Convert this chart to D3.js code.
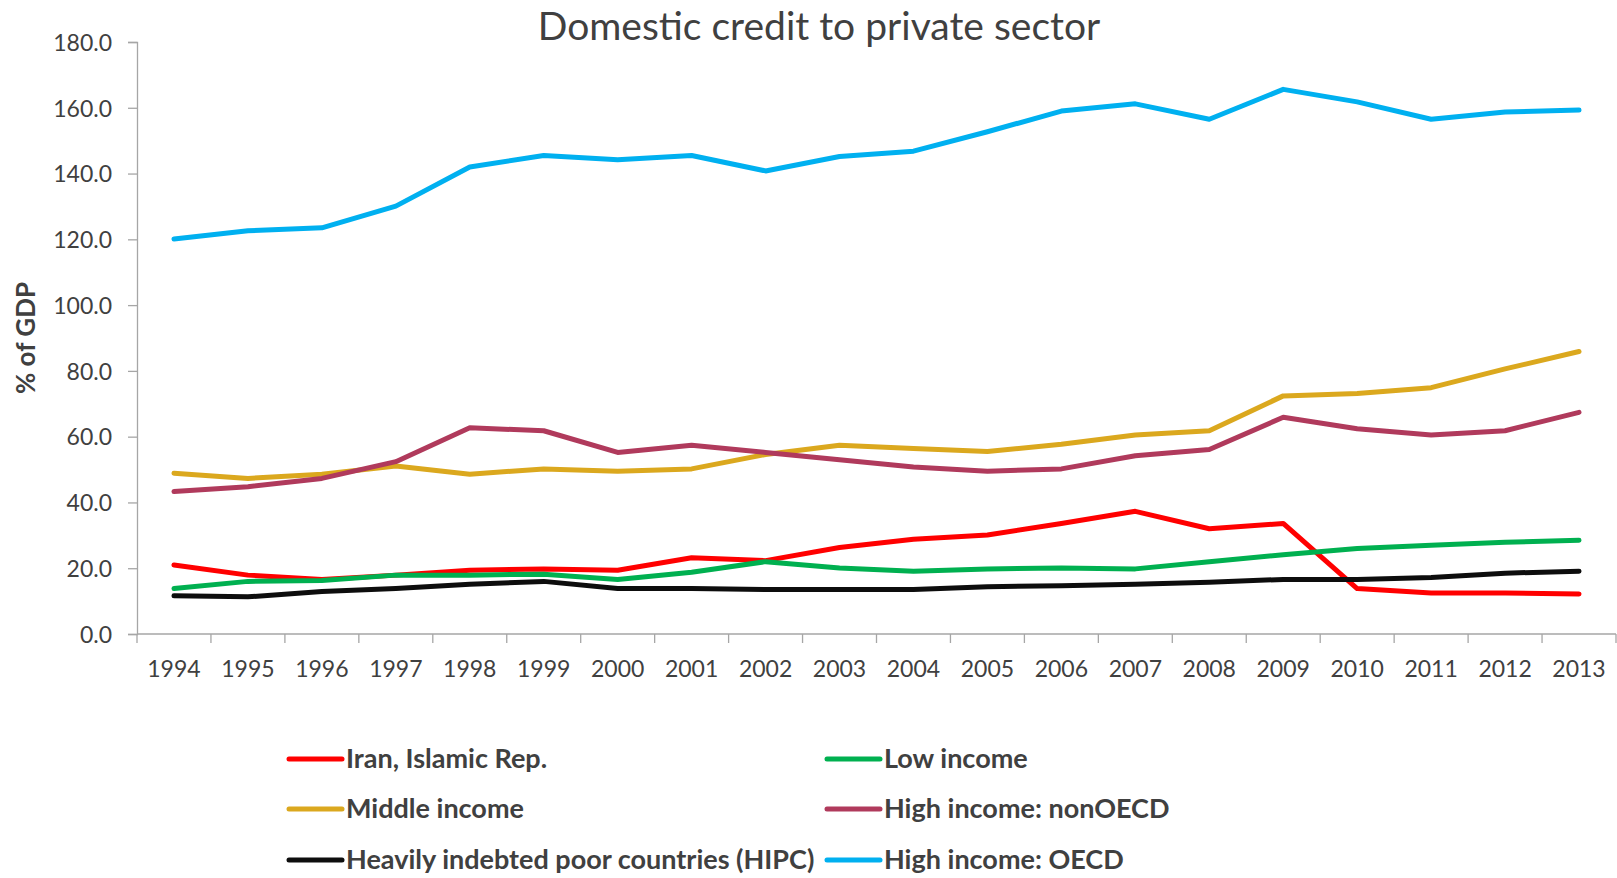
<!DOCTYPE html>
<html>
<head>
<meta charset="utf-8">
<script src="https://cdn.jsdelivr.net/npm/d3@7"></script>
<style>
  body { margin: 0; background: #fff; }
  text { font-family: Lato, "Open Sans", sans-serif; fill: #404040; }
</style>
</head>
<body>
<div id="chart"></div>
<script>
// chart data
var years = ["1994","1995","1996","1997","1998","1999","2000","2001","2002","2003",
             "2004","2005","2006","2007","2008","2009","2010","2011","2012","2013"];
var iran      = [21.0,17.9,16.6,17.9,19.4,19.8,19.4,23.2,22.3,26.3,28.8,30.1,33.6,37.3,32.0,33.6,13.8,12.5,12.5,12.2];
var lowInc    = [13.8,16.0,16.3,17.9,17.9,18.2,16.6,18.8,22.0,20.1,19.1,19.8,20.1,19.8,22.0,24.1,26.0,27.0,27.9,28.5];
var middleInc = [48.9,47.3,48.6,51.1,48.6,50.2,49.5,50.2,54.6,57.4,56.4,55.5,57.7,60.5,61.8,72.4,73.1,74.9,80.6,85.9];
var highNon   = [43.3,44.8,47.3,52.4,62.7,61.8,55.2,57.4,55.2,53.0,50.8,49.5,50.2,54.2,56.1,65.9,62.4,60.5,61.8,67.4];
var hipc      = [11.6,11.3,12.9,13.8,15.1,16.0,13.8,13.8,13.5,13.5,13.5,14.4,14.7,15.1,15.7,16.6,16.6,17.2,18.5,19.1];
var highOecd  = [120.1,122.6,123.5,130.1,142.0,145.5,144.2,145.5,140.8,145.2,146.8,152.7,159.0,161.2,156.5,165.6,161.8,156.5,158.7,159.3];
var yTicks = [0,20,40,60,80,100,120,140,160,180];

var seriesNames  = ["Iran, Islamic Rep.","Low income","Middle income","High income: nonOECD","Heavily indebted poor countries (HIPC)","High income: OECD"];
var seriesValues = [iran, lowInc, middleInc, highNon, hipc, highOecd];
var seriesColors = ["#ff0000","#00b050","#dba81e","#b03a5c","#0d0d0d","#00b0f0"];
// drawing order (blue on top like the original)
var drawOrder = [2, 3, 0, 1, 4, 5];

var width = 1617, height = 878;
var margin = {left: 137, right: 1, top: 42, bottom: 244};

var svg = d3.select("#chart").append("svg")
    .attr("width", width)
    .attr("height", height);

var x = d3.scaleBand()
    .domain(years)
    .range([margin.left, width - margin.right]);

var y = d3.scaleLinear()
    .domain([0, 180])
    .range([height - margin.bottom, margin.top]);

// title
svg.append("text")
    .attr("x", 819)
    .attr("y", 40)
    .attr("text-anchor", "middle")
    .style("font-size", "39px")
    .text("Domestic credit to private sector");

// y axis
var yAxis = d3.axisLeft(y)
    .tickValues(yTicks)
    .tickFormat(d3.format(".1f"))
    .tickSize(9)
    .tickPadding(16);

var gy = svg.append("g")
    .attr("transform", "translate(" + margin.left + ",0)")
    .call(yAxis);
gy.select(".domain").attr("stroke", "#a6a6a6").attr("stroke-width", 1.3);
gy.selectAll(".tick line").attr("stroke", "#a6a6a6").attr("stroke-width", 1.3);
gy.selectAll(".tick text")
    .style("font-size", "23px")
    .style("font-family", "Lato, sans-serif")
    .attr("fill", "#404040")
    .attr("dy", "0.36em");

// y axis title
svg.append("text")
    .attr("transform", "translate(35," + 338 + ") rotate(-90)")
    .attr("text-anchor", "middle")
    .style("font-size", "26px")
    .style("font-weight", "bold")
    .text("% of GDP");

// x axis: line + tick marks between categories
var baseY = y(0);
svg.append("line")
    .attr("x1", margin.left).attr("x2", width - margin.right)
    .attr("y1", baseY).attr("y2", baseY)
    .attr("stroke", "#a6a6a6").attr("stroke-width", 1.3);

var edges = years.map(function(d){ return x(d); });
edges.push(x(years[years.length - 1]) + x.bandwidth());
svg.selectAll(".xtick")
    .data(edges)
    .enter()
    .append("line")
    .attr("class", "xtick")
    .attr("x1", function(d){ return d; })
    .attr("x2", function(d){ return d; })
    .attr("y1", baseY)
    .attr("y2", baseY + 9)
    .attr("stroke", "#a6a6a6").attr("stroke-width", 1.3);

svg.selectAll(".xlabel")
    .data(years)
    .enter()
    .append("text")
    .attr("class", "xlabel")
    .attr("x", function(d){ return x(d) + x.bandwidth() / 2; })
    .attr("y", baseY + 43)
    .attr("text-anchor", "middle")
    .style("font-size", "23px")
    .text(function(d){ return d; });

// lines
var line = d3.line()
    .x(function(d, i){ return x(years[i]) + x.bandwidth() / 2; })
    .y(function(d){ return y(d); });

drawOrder.forEach(function(k){
    svg.append("path")
        .datum(seriesValues[k])
        .attr("d", line)
        .attr("fill", "none")
        .attr("stroke", seriesColors[k])
        .attr("stroke-width", 5)
        .attr("stroke-linejoin", "round")
        .attr("stroke-linecap", "round");
});

// legend
var legCols = [289, 827];
var legRows = [759, 809, 860];
var legend = svg.selectAll(".leg")
    .data(seriesNames)
    .enter()
    .append("g")
    .attr("class", "leg")
    .attr("transform", function(d, i){
        return "translate(" + legCols[i % 2] + "," + legRows[Math.floor(i / 2)] + ")";
    });

legend.append("line")
    .attr("x1", 0).attr("x2", 53)
    .attr("y1", 0).attr("y2", 0)
    .attr("stroke", function(d, i){ return seriesColors[i]; })
    .attr("stroke-width", 5)
    .attr("stroke-linecap", "round");

legend.append("text")
    .attr("x", 57)
    .attr("dy", "0.35em")
    .style("font-size", "27px")
    .style("font-weight", "bold")
    .text(function(d){ return d; });
</script>
</body>
</html>
